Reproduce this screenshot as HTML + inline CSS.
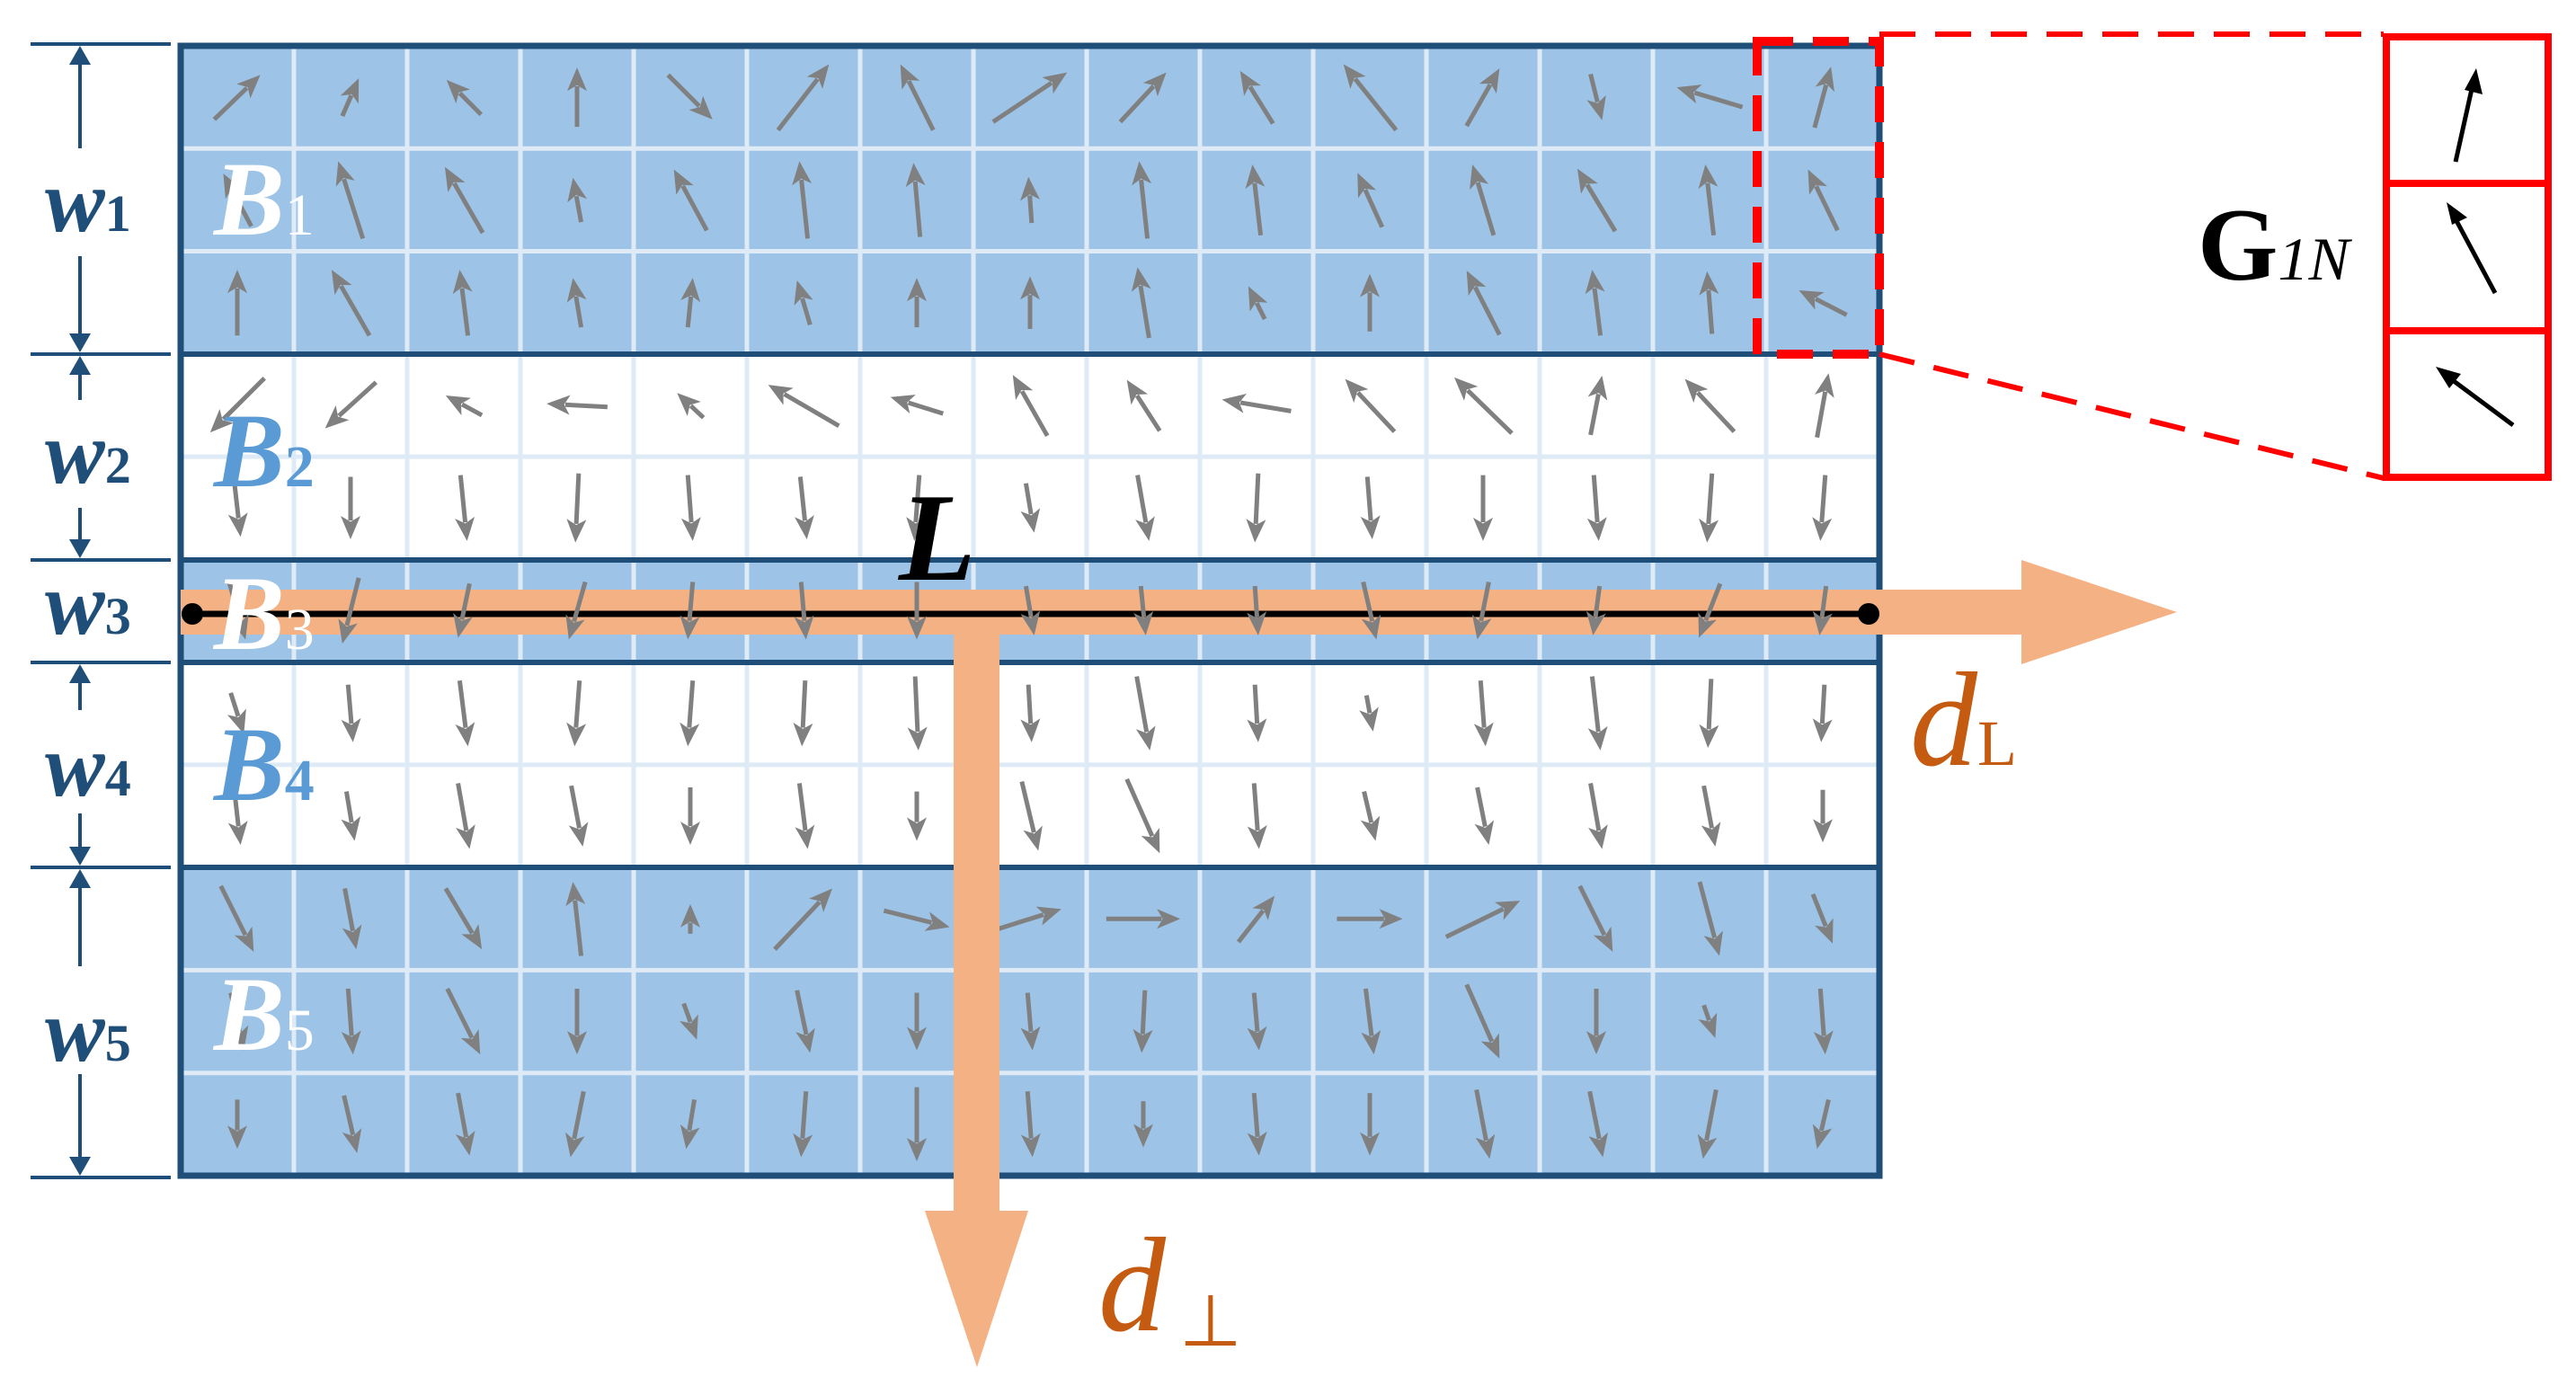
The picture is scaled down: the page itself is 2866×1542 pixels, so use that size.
<!DOCTYPE html>
<html><head><meta charset="utf-8"><style>
html,body{margin:0;padding:0;background:#fff;}
svg{display:block;}
</style></head><body>
<svg id="s" xmlns="http://www.w3.org/2000/svg" width="2866" height="1542" viewBox="0 0 2866 1542">
<rect x="0" y="0" width="2866" height="1542" fill="#fff"/>
<!-- bands -->
<rect x="201" y="51" width="1890" height="343" fill="#9dc3e6"/>
<rect x="201" y="623" width="1890" height="114" fill="#9dc3e6"/>
<rect x="201" y="965" width="1890" height="343" fill="#9dc3e6"/>
<g id="grid" stroke-width="5"></g>
<!-- band borders -->
<g stroke="#1f4e79" stroke-width="6">
<line x1="201" y1="394" x2="2091" y2="394"/>
<line x1="201" y1="623" x2="2091" y2="623"/>
<line x1="201" y1="737" x2="2091" y2="737"/>
<line x1="201" y1="965" x2="2091" y2="965"/>
</g>
<rect x="201" y="51" width="1890" height="1257" fill="none" stroke="#1f4e79" stroke-width="7"/>
<g id="arrows"></g>
<!-- orange -->
<rect x="201" y="656" width="2048" height="50" fill="#f4b183"/>
<polygon points="2249,623 2422,681 2249,739" fill="#f4b183"/>
<rect x="1061" y="706" width="51" height="645" fill="#f4b183"/>
<polygon points="1029,1347 1144,1347 1087,1521" fill="#f4b183"/>
<line x1="214" y1="683" x2="2079" y2="683" stroke="#000" stroke-width="7"/>
<circle cx="214" cy="683" r="12" fill="#000"/>
<circle cx="2079" cy="683" r="12" fill="#000"/>
<g id="arrows2"></g>
<!-- labels B -->
<g font-family="Liberation Serif, serif" font-style="italic" font-weight="bold" font-size="118">
<text x="238" y="261" fill="#fff">B<tspan font-size="66" font-style="normal" font-weight="normal">1</tspan></text>
<text x="238" y="541" fill="#5b9bd5">B<tspan font-size="66" font-style="normal" font-weight="bold">2</tspan></text>
<text x="238" y="722" fill="#fff">B<tspan font-size="66" font-style="normal" font-weight="normal">3</tspan></text>
<text x="238" y="890" fill="#5b9bd5">B<tspan font-size="66" font-style="normal" font-weight="bold">4</tspan></text>
<text x="238" y="1168" fill="#fff">B<tspan font-size="66" font-style="normal" font-weight="normal">5</tspan></text>
<text x="1000" y="645" fill="#000" font-size="140">L</text>
</g>
<!-- left dimensions -->
<g stroke="#1f4e79" stroke-width="4">
<line x1="34" y1="49" x2="190" y2="49"/>
<line x1="34" y1="394" x2="190" y2="394"/>
<line x1="34" y1="623" x2="190" y2="623"/>
<line x1="34" y1="737" x2="190" y2="737"/>
<line x1="34" y1="965" x2="190" y2="965"/>
<line x1="34" y1="1310" x2="190" y2="1310"/>
<line x1="89" y1="70" x2="89" y2="165"/>
<line x1="89" y1="285" x2="89" y2="375"/>
<line x1="89" y1="415" x2="89" y2="445"/>
<line x1="89" y1="565" x2="89" y2="605"/>
<line x1="89" y1="757" x2="89" y2="790"/>
<line x1="89" y1="905" x2="89" y2="945"/>
<line x1="89" y1="985" x2="89" y2="1075"/>
<line x1="89" y1="1195" x2="89" y2="1290"/>
</g>
<g fill="#1f4e79">
<polygon points="89,51 77,72 101,72"/><polygon points="89,392 77,371 101,371"/>
<polygon points="89,396 77,417 101,417"/><polygon points="89,621 77,600 101,600"/>
<polygon points="89,739 77,760 101,760"/><polygon points="89,963 77,942 101,942"/>
<polygon points="89,967 77,988 101,988"/><polygon points="89,1308 77,1287 101,1287"/>
</g>
<g font-family="Liberation Serif, serif" font-style="italic" font-weight="bold" font-size="100" fill="#1f4e79">
<text x="50" y="257">w<tspan font-size="58" font-style="normal">1</tspan></text>
<text x="50" y="537">w<tspan font-size="58" font-style="normal">2</tspan></text>
<text x="50" y="705">w<tspan font-size="58" font-style="normal">3</tspan></text>
<text x="50" y="885">w<tspan font-size="58" font-style="normal">4</tspan></text>
<text x="50" y="1180">w<tspan font-size="58" font-style="normal">5</tspan></text>
</g>
<!-- d labels -->
<g font-family="Liberation Serif, serif" fill="#c55a11">
<text x="2125" y="851" font-style="italic" font-size="150">d<tspan font-size="72" font-style="normal">L</tspan></text>
<text x="1222" y="1480" font-style="italic" font-size="150">d</text>
<text x="1312" y="1497" font-size="80">⊥</text>
</g>
<!-- red zoom -->
<rect x="1955" y="46" width="136" height="348" fill="none" stroke="#f00" stroke-width="10" stroke-dasharray="40,22"/>
<line x1="2091" y1="38" x2="2652" y2="38" stroke="#f00" stroke-width="6" stroke-dasharray="40,22"/>
<line x1="2091" y1="394" x2="2652" y2="532" stroke="#f00" stroke-width="6" stroke-dasharray="40,22"/>
<rect x="2655" y="41" width="180" height="490" fill="#fff" stroke="#f00" stroke-width="8"/>
<line x1="2655" y1="204" x2="2835" y2="204" stroke="#f00" stroke-width="8"/>
<line x1="2655" y1="368" x2="2835" y2="368" stroke="#f00" stroke-width="8"/>
<g stroke="#000" stroke-width="5">
<line x1="2732" y1="180" x2="2752" y2="90"/>
<line x1="2776" y1="326" x2="2730" y2="240"/>
<line x1="2796" y1="473" x2="2722" y2="418"/>
</g>
<g fill="#000">
<polygon points="2755,76 2762,105 2742,100"/>
<polygon points="2722,225 2745,242 2728,250"/>
<polygon points="2710,408 2738,416 2725,432"/>
</g>
<text x="2445" y="311" font-family="Liberation Serif, serif" font-weight="bold" font-size="115" fill="#000">G<tspan font-weight="normal" font-style="italic" font-size="68">1N</tspan></text>
<script>
(function(){
var NS="http://www.w3.org/2000/svg";
var grid=document.getElementById('grid');
function ln(g,x1,y1,x2,y2,c,w){var l=document.createElementNS(NS,'line');l.setAttribute('x1',x1);l.setAttribute('y1',y1);l.setAttribute('x2',x2);l.setAttribute('y2',y2);l.setAttribute('stroke',c);if(w)l.setAttribute('stroke-width',w);g.appendChild(l);}
var rh=114.27;
for(var c=1;c<15;c++){var x=201+126*c;ln(grid,x,51,x,1308,'#deebf7');}
[1,2,4,6,7,9,10].forEach(function(r){var y=51+rh*r;ln(grid,201,y,2091,y,'#deebf7');});
var V=[
[[28,-27],[10,-23],[-21,-21],[0,-36],[27,27],[31,-40],[-20,-40],[45,-30],[28,-30],[-20,-32],[-32,-40],[20,-35],[7,28],[-40,-12],[10,-37]],
[[-17,-32],[-15,-47],[-23,-40],[-5,-27],[-20,-37],[-5,-47],[-4,-45],[-2,-28],[-5,-47],[-5,-43],[-15,-33],[-13,-43],[-23,-38],[-5,-43],[-18,-37]],
[[0,-40],[-23,-40],[-5,-40],[-5,-30],[3,-30],[-8,-27],[0,-30],[0,-32],[-7,-43],[-10,-20],[0,-35],[-20,-39],[-5,-40],[-3,-38],[-29,-15]],
[[-33,33],[-31,28],[-22,-12],[-37,-2],[-16,-15],[-43,-25],[-32,-10],[-21,-37],[-20,-31],[-42,-7],[-30,-32],[-35,-34],[7,-36],[-30,-32],[7,-39]],
[[4,35],[0,38],[4,40],[-2,42],[3,40],[4,38],[-3,40],[5,30],[7,40],[-2,42],[3,38],[0,40],[3,40],[-3,42],[-3,40]],
[[10,35],[-10,40],[-7,33],[-10,35],[-3,35],[3,35],[0,35],[5,30],[3,30],[2,30],[8,35],[-7,35],[-4,30],[-13,33],[-4,30]],
[[8,25],[3,35],[5,40],[-3,40],[-3,40],[-2,40],[2,45],[2,35],[8,45],[2,35],[4,22],[3,40],[5,45],[-2,42],[-2,35]],
[[4,35],[5,30],[7,40],[7,37],[0,35],[5,40],[0,30],[10,42],[20,45],[3,40],[7,30],[7,35],[7,40],[7,37],[0,32]],
[[20,40],[7,37],[22,37],[-5,-45],[0,-18],[35,-37],[40,10],[38,-12],[45,0],[22,-28],[40,0],[45,-22],[20,40],[12,45],[12,30]],
[[8,35],[3,40],[20,40],[0,40],[8,22],[8,38],[0,35],[3,35],[-2,38],[3,35],[5,40],[20,45],[0,40],[7,20],[3,40]],
[[0,30],[8,35],[7,38],[-8,40],[-5,30],[-3,40],[0,45],[3,40],[0,28],[3,38],[0,38],[8,42],[8,40],[-8,42],[-7,30]]
];
var A=document.getElementById('arrows'),A2=document.getElementById('arrows2');
for(var r=0;r<11;r++)for(var c=0;c<15;c++){
var v=V[r][c],dx=v[0]*1.83,dy=v[1]*1.83,cx=264+126*c,cy=51+rh*(r+0.5);
var L=Math.sqrt(dx*dx+dy*dy),ux=dx/L,uy=dy/L;
var x1=cx-dx/2,y1=cy-dy/2,x2=cx+dx/2,y2=cy+dy/2,h=26,w=11;
var g=(r==5)?A2:A;
ln(g,x1,y1,x2-ux*h*0.8,y2-uy*h*0.8,'#808080',5);
var p=document.createElementNS(NS,'polygon');
var bx=x2-ux*h,by=y2-uy*h;
p.setAttribute('points',x2+','+y2+' '+(bx-uy*w)+','+(by+ux*w)+' '+(bx+ux*h*0.25)+','+(by+uy*h*0.25)+' '+(bx+uy*w)+','+(by-ux*w));
p.setAttribute('fill','#808080');g.appendChild(p);}
})();
</script>
</svg>
</body></html>
